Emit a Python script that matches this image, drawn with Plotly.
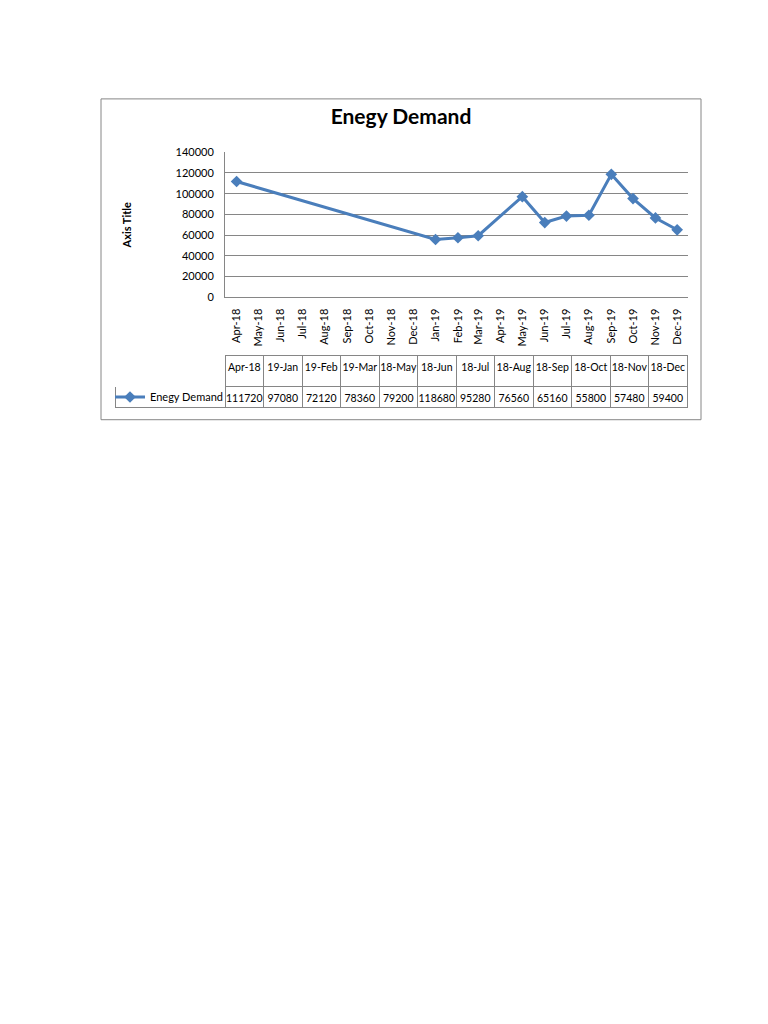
import plotly.graph_objects as go

# plotted points (Excel read the table's odd date strings onto these months)
dates = ["2018-04-01", "2019-01-01", "2019-02-01", "2019-03-01", "2019-05-01", "2019-06-01",
         "2019-07-01", "2019-08-01", "2019-09-01", "2019-10-01", "2019-11-01", "2019-12-01"]
demand = [111720, 55800, 57480, 59400, 97080, 72120, 78360, 79200, 118680, 95280, 76560, 65160]

# data table below the chart, as typed in the sheet
table_headers = ["Apr-18", "19-Jan", "19-Feb", "19-Mar", "18-May", "18-Jun",
                 "18-Jul", "18-Aug", "18-Sep", "18-Oct", "18-Nov", "18-Dec"]
table_values = [111720, 97080, 72120, 78360, 79200, 118680, 95280, 76560, 65160, 55800, 57480, 59400]

series_name = "Enegy Demand"

# the page body keeps an 8px margin, so the figure is placed 8px in from the corner
OFF = 8
W, H = 752, 1008
FONT = "Lato"
GRID = "#868686"
BLUE = "#4A7EBB"


def px_x(p):
    return (p - OFF) / W


def px_y(p):
    return 1 - (p - OFF) / H


fig = go.Figure()
fig.add_scatter(
    x=dates,
    y=demand,
    name=series_name,
    mode="lines+markers",
    line=dict(color=BLUE, width=3),
    marker=dict(symbol="diamond", size=9, color=BLUE),
)

fig.add_trace(
    go.Table(
        domain=dict(x=[px_x(115), px_x(687.5)], y=[px_y(409), px_y(353)]),
        columnwidth=[110] + [38.5] * len(table_headers),
        header=dict(
            values=[""] + table_headers,
            height=31,
            align="center",
            fill_color="white",
            line=dict(color=["white"] + [GRID] * len(table_headers), width=1),
            font=dict(family=FONT, size=10.5, color="black"),
        ),
        cells=dict(
            values=[[""]] + [[v] for v in table_values],
            height=21,
            align="center",
            fill_color="white",
            line=dict(color=GRID, width=1),
            font=dict(family=FONT, size=10.5, color="black"),
        ),
    )
)

fig.update_xaxes(
    type="date",
    domain=[px_x(225), px_x(688)],
    range=["2018-03-16", "2019-12-16"],
    tick0="2018-04-01",
    dtick="M1",
    tickformat="%b-%y",
    tickangle=-90,
    tickfont=dict(family=FONT, size=11, color="black"),
    ticklabelstandoff=6,
    showgrid=False,
    showline=True,
    linecolor=GRID,
    ticks="",
)
fig.update_yaxes(
    domain=[px_y(294), px_y(147)],
    range=[0, 140000],
    dtick=20000,
    tickformat="d",
    tickfont=dict(family=FONT, size=11, color="black"),
    ticklabelstandoff=8,
    showgrid=True,
    gridcolor=GRID,
    zeroline=False,
    showline=True,
    linecolor=GRID,
    ticks="",
    title=dict(text="Axis Title", font=dict(family=FONT, size=11, color="black", weight="bold"), standoff=41),
)

fig.add_shape(
    type="rect", xref="paper", yref="paper",
    x0=px_x(101), x1=px_x(701), y0=px_y(418), y1=px_y(93),
    line=dict(color=GRID, width=1),
)

fig.update_layout(
    width=W,
    height=H,
    margin=dict(l=0, r=0, t=0, b=0),
    paper_bgcolor="white",
    plot_bgcolor="white",
    title=dict(
        text=series_name,
        x=px_x(401), y=px_y(117), xanchor="center", yanchor="middle",
        font=dict(family=FONT, size=21, color="black", weight="bold"),
    ),
    showlegend=True,
    legend=dict(
        x=px_x(110), y=px_y(395), xanchor="left", yanchor="middle",
        bgcolor="rgba(0,0,0,0)",
        font=dict(family=FONT, size=11, color="black"),
    ),
)

fig.write_html("out.html")
